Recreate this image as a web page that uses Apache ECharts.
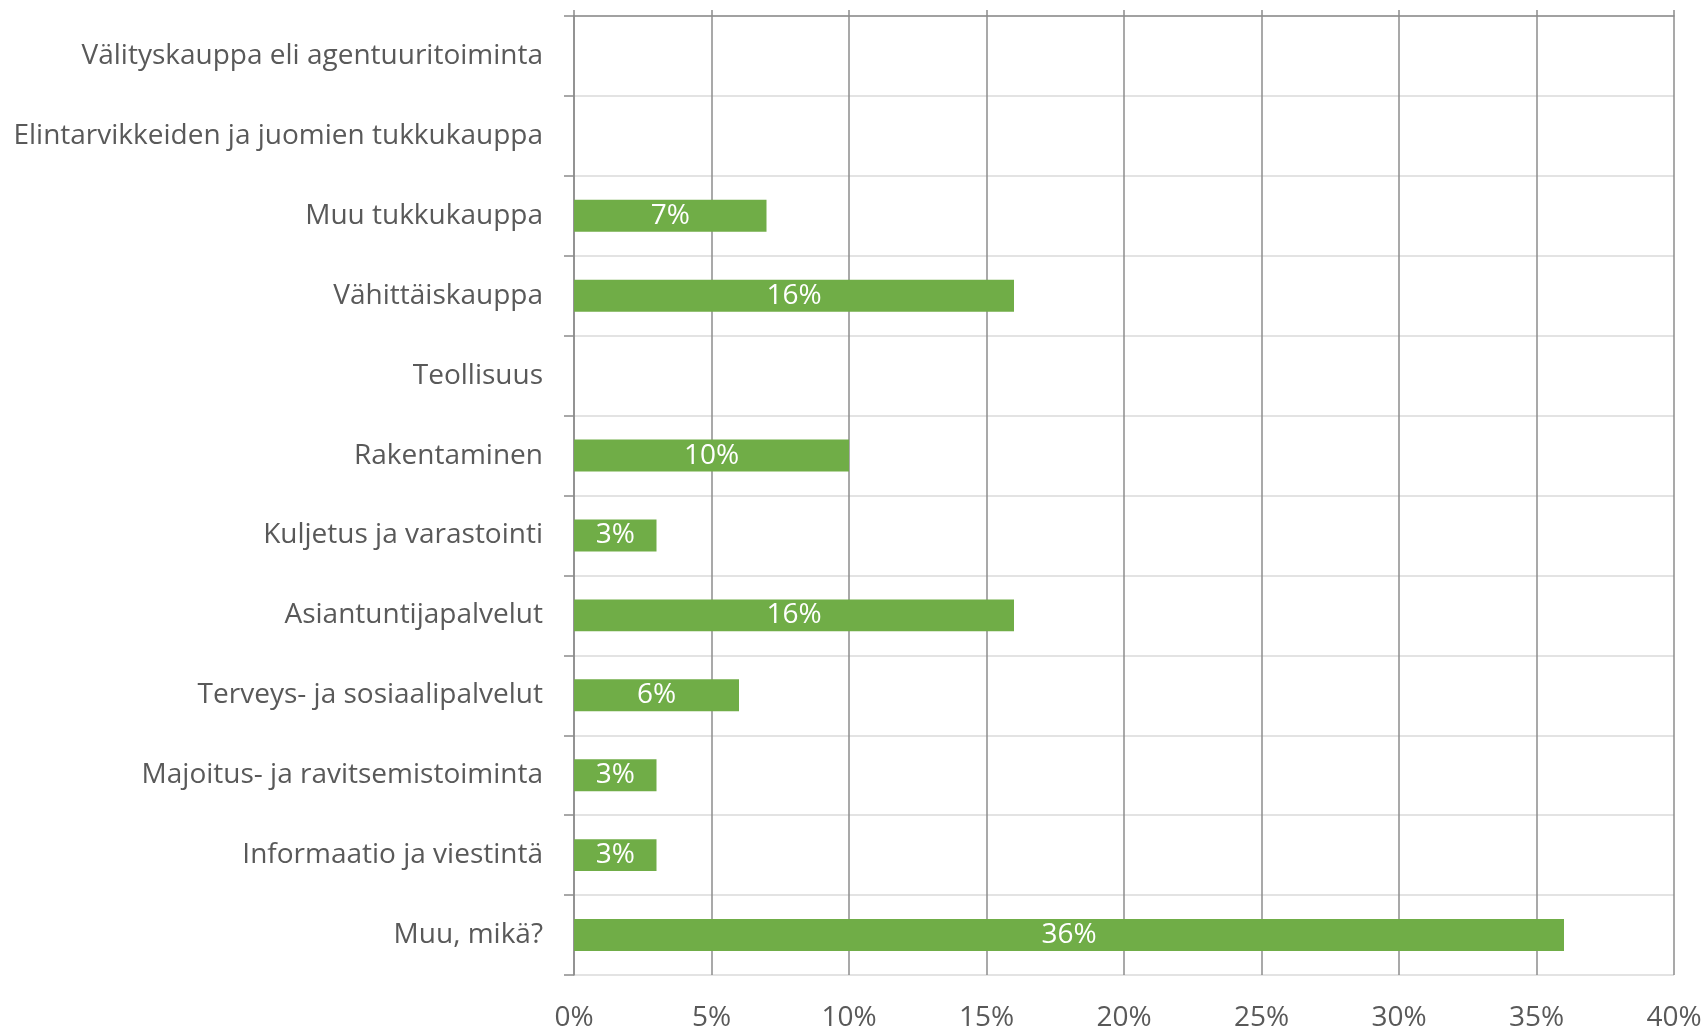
<!DOCTYPE html>
<html>
<head>
<meta charset="utf-8">
<script src="https://cdn.jsdelivr.net/npm/echarts@6/dist/echarts.min.js"></script>
<style>
  html, body { margin: 0; padding: 0; background: #fff; }
  #chart { width: 1708px; height: 1032px; }
</style>
</head>
<body>
<div id="chart"></div>
<script>
// toimialat ylhäältä alas
const categories = [
  'Välityskauppa eli agentuuritoiminta',
  'Elintarvikkeiden ja juomien tukkukauppa',
  'Muu tukkukauppa',
  'Vähittäiskauppa',
  'Teollisuus',
  'Rakentaminen',
  'Kuljetus ja varastointi',
  'Asiantuntijapalvelut',
  'Terveys- ja sosiaalipalvelut',
  'Majoitus- ja ravitsemistoiminta',
  'Informaatio ja viestintä',
  'Muu, mikä?'
]
const shares = [0, 0, 7, 16, 0, 10, 3, 16, 6, 3, 3, 36]

const FONT = 'Open Sans'
const TEXT = '#595959'
const DARK = '#8c8c8c'

let chart = echarts.init(document.getElementById('chart'))
chart.setOption({
  animation: false,
  grid: { left: 574, right: 34, top: 16, bottom: 55, containLabel: false },
  xAxis: [
    {
      type: 'value', min: 0, max: 40, interval: 5,
      position: 'bottom',
      axisLine: { show: false },
      axisTick: { show: false },
      axisLabel: {
        color: TEXT, fontFamily: FONT, fontSize: 28, margin: 29,
        formatter: v => v + '%'
      },
      splitLine: { show: true, lineStyle: { color: DARK, width: 1.5 } }
    },
    {
      // yläreunan akseliviiva ja tikut
      type: 'value', min: 0, max: 40, interval: 5,
      position: 'top',
      axisLine: { show: true, lineStyle: { color: DARK, width: 1.5 } },
      axisTick: { show: true, inside: false, length: 6, lineStyle: { color: DARK, width: 1.5 } },
      axisLabel: { show: false },
      splitLine: { show: false }
    }
  ],
  yAxis: {
    type: 'category',
    data: categories,
    inverse: true,
    axisLine: { show: true, lineStyle: { color: DARK, width: 1.5 } },
    axisTick: { show: true, length: 10, lineStyle: { color: DARK, width: 1.5 } },
    axisLabel: { color: TEXT, fontFamily: FONT, fontSize: 28, margin: 31, padding: [10, 0, 0, 0] },
    splitLine: { show: true, lineStyle: { color: '#e3e3e3', width: 2 } }
  },
  series: [{
    type: 'bar',
    data: shares,
    barWidth: '40%',
    itemStyle: { color: '#70ad47' },
    label: {
      show: true, position: 'inside', color: '#fff',
      fontFamily: FONT, fontSize: 28, padding: [10, 0, 0, 0],
      formatter: p => p.value ? p.value + '%' : ''
    }
  }]
})
</script>
</body>
</html>
